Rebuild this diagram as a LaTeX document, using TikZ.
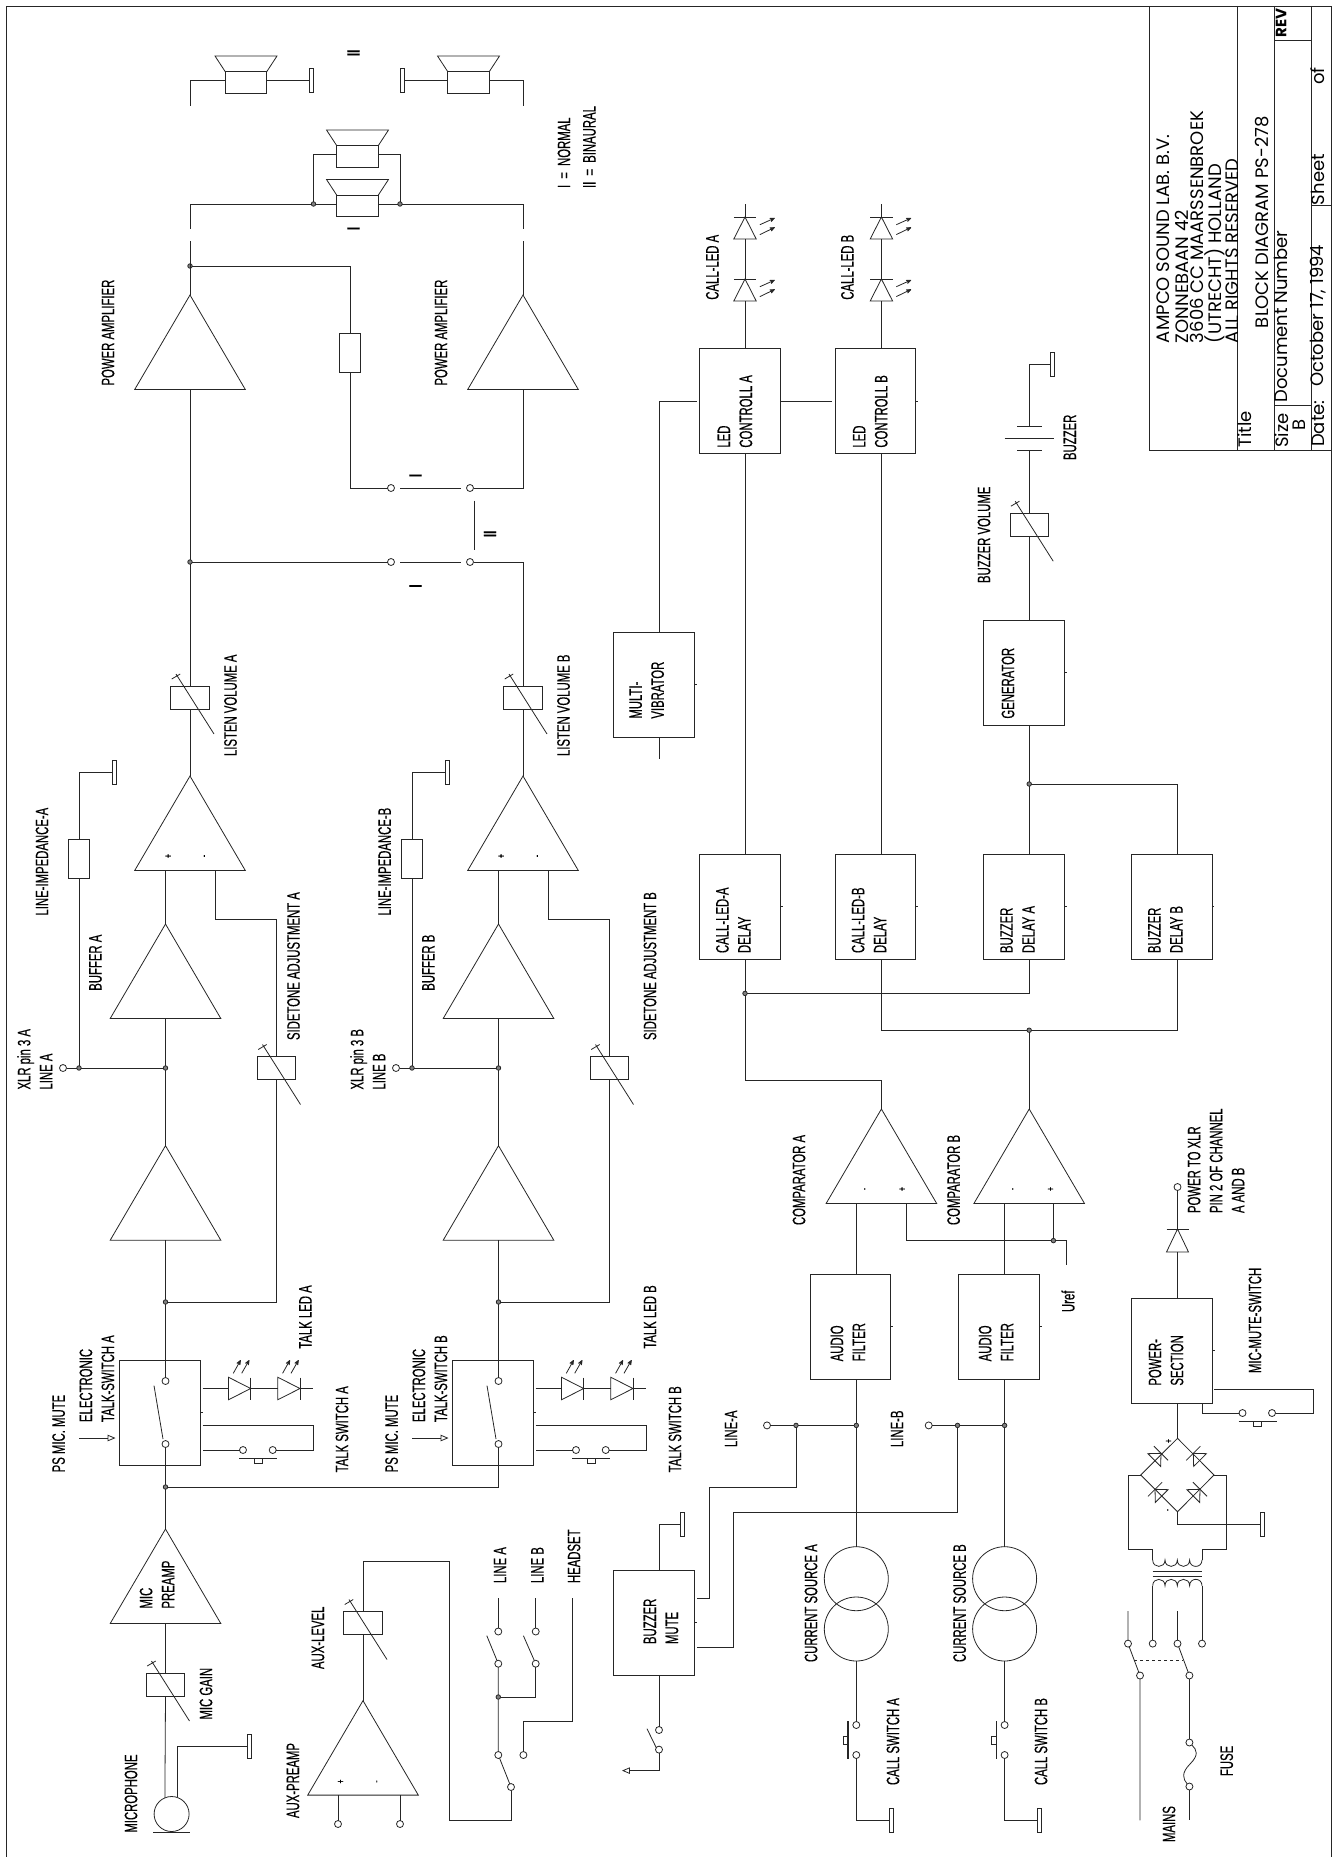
\documentclass[tikz,border=0pt]{standalone}
\usepackage{fontspec}
\usepackage{tikz}
\usetikzlibrary{
    arrows,
    shapes.geometric
}
\newfontfamily\schfont[FakeStretch=0.63,FakeBold=0.35]{Liberation Sans}
\newfontfamily\ttlfont{Poppins}

% symbols: adjustable resistor, diode, light rays, push button, loudspeaker
\newcommand{\potsym}[2]{
    \node[potbox] (#1) at (#2) {};
    \draw[shift={(#1.center)}] (-14,-23.5) -- (24,36.5) (-18.3,-18.5) -- (-9.8,-23.5);
}
\newcommand{\diodesym}[6]{
    \node[diodebox, rotate=#3, minimum width=#5, minimum height=#4] (#1) at (#2) {};
    \draw[shift={(#1.apex)}, rotate=#3] (0,-#6) -- (0,#6);
}
\newcommand{\raysup}[1]{
    \draw[->, shift={(#1.apex)}] (-17.4,-15.2) -- (-10,-28.5);
    \draw[->, shift={(#1.apex)}] (-9,-15.2) -- (-1.4,-28.5);
}
\newcommand{\raysright}[1]{
    \draw[->, shift={(#1.apex)}] (14.9,7.7) -- (29.8,1);
    \draw[->, shift={(#1.apex)}] (14.9,17.6) -- (29.8,10.4);
}
\newcommand{\pushsym}[2]{
    \draw[shift={(#1)}, rotate=#2, line width=1.3pt] (-19,0) -- (19,0);
    \draw[shift={(#1)}, rotate=#2] (-4,0) rectangle (4,4.5);
}
\newcommand{\spksym}[2]{
    \node[spkbox] (#1) at (#2) {};
    \draw[shift={(#1.center)}] (-20.7,-10.75) -- (-31,-26.5) -- (31,-26.5) -- (20.7,-10.75);
}

\begin{document}
\begin{tikzpicture}[x=1pt,y=-1pt,>=stealth',line width=0.8pt,color=black!85]
    \tikzstyle{blockbox}=[rectangle, draw, minimum width=80.3pt, minimum height=105pt, inner sep=0pt, outer sep=0pt]
    \tikzstyle{ampbox}=[isosceles triangle, isosceles triangle stretches, draw, rotate=90, anchor=apex, minimum height=94.5pt, minimum width=110.6pt, inner sep=0pt, outer sep=0pt]
    \tikzstyle{diodebox}=[isosceles triangle, isosceles triangle stretches, draw, anchor=apex, inner sep=0pt, outer sep=0pt]
    \tikzstyle{potbox}=[rectangle, draw, minimum width=38.5pt, minimum height=23pt, inner sep=0pt, outer sep=0pt]
    \tikzstyle{resbox}=[rectangle, draw, minimum width=21pt, minimum height=39pt, inner sep=0pt, outer sep=0pt]
    \tikzstyle{spkbox}=[rectangle, draw, minimum width=41.5pt, minimum height=21.5pt, inner sep=0pt, outer sep=0pt]
    \tikzstyle{gndbar}=[rectangle, draw, minimum width=4pt, minimum height=24pt, inner sep=0pt, outer sep=0pt]
    \tikzstyle{termbox}=[circle, draw, fill=white, minimum size=7pt, inner sep=0pt, outer sep=0pt]
    \tikzstyle{jdot}=[circle, draw, fill=black!50, minimum size=4.5pt, inner sep=0pt, outer sep=0pt]
    \tikzstyle{srcbox}=[circle, draw, minimum size=64pt, inner sep=0pt, outer sep=0pt]
    \tikzstyle{lbl}=[rotate=90, anchor=west, inner sep=0pt, outer sep=0pt, align=left, text=black, font=\schfont\fontsize{18}{22}\selectfont]
    \tikzstyle{pinlbl}=[rotate=90, inner sep=0pt, outer sep=0pt, text=black, font=\schfont\fontsize{11}{11}\selectfont]
    \tikzstyle{ttl}=[rotate=90, anchor=west, inner sep=0pt, outer sep=0pt, align=left, text=black, font=\ttlfont\fontsize{18}{15}\selectfont]

    \useasboundingbox (0,0) rectangle (1332,1857);

    % sheet frame and title block
    \coordinate (frameA) at (6,1857);
    \coordinate (frameB) at (6,6);
    \coordinate (frameC) at (1331,6);
    \coordinate (frameD) at (1331,1857);
    \draw (frameA) -- (frameB) -- (frameC) -- (frameD);
    \draw (1149.4,6) -- (1149.4,450) -- (1331,450);
    \draw (1237.5,6) -- (1237.5,450);
    \draw (1274.5,6) -- (1274.5,450);
    \draw (1311.7,6) -- (1311.7,450);
    \draw (1274.5,40.7) -- (1311.7,40.7);
    \draw (1274.5,405) -- (1311.7,405);
    \draw (1311.7,205.6) -- (1331,205.6);
    \node[ttl] (tbName) at (1163,343) {AMPCO SOUND LAB. B.V.};
    \node[ttl] (tbAddr) at (1207.2,343) {ZONNEBAAN 42\\3606 CC MAARSSENBROEK\\(UTRECHT) HOLLAND\\ALL RIGHTS RESERVED};
    \node[ttl] (tbTitle) at (1245,447.6) {Title};
    \node[ttl] (tbBlock) at (1262,328) {BLOCK DIAGRAM PS-278};
    \node[ttl] (tbSize) at (1281.5,447.6) {Size};
    \node[ttl] (tbB) at (1299,430) {B};
    \node[ttl] (tbDoc) at (1280.7,402.5) {Document Number};
    \node[ttl] (tbRev) at (1281,37.6) {\bfseries\fontsize{15}{15}\selectfont REV};
    \node[ttl] (tbDate) at (1318,446.8) {Date:};
    \node[ttl] (tbOct) at (1318,386.7) {October 17, 1994};
    \node[ttl] (tbSheet) at (1318,205) {Sheet};
    \node[ttl] (tbOf) at (1318,85) {of};

    % the two identical speech channels
    \foreach \chn/\dx in {A/0,B/333}{
    \begin{scope}[xshift=\dx pt]
        \node[blockbox] (sw\chn) at (160,1412.5) {};
        \node[termbox] (swT\chn) at (165.5,1381) {};
        \node[termbox] (swD\chn) at (165.5,1444) {};
        \draw (154,1385.6) -- (163,1439);
        \node[ampbox] (amp\chn) at (165.5,1145.7) {};
        \node[ampbox] (buf\chn) at (165.5,924) {};
        \node[ampbox] (sum\chn) at (190,776) {};
        \node[pinlbl] (sumP\chn) at (168.6,856) {+};
        \node[pinlbl] (sumM\chn) at (205.6,856) {-};
        \potsym{listen\chn}{190,697.5}
        \potsym{side\chn}{276.5,1068}
        \node[resbox] (imp\chn) at (79,858.5) {};
        \node[gndbar] (gndImp\chn) at (114,772) {};
        \node[jdot] (jLine\chn) at (165.5,1068) {};
        \node[jdot] (jImp\chn) at (79,1068) {};
        \node[termbox] (tLine\chn) at (63,1068) {};
        \node[jdot] (jSide\chn) at (165.5,1302) {};
        \coordinate (stC\chn) at (215,919.5);
        \draw (amp\chn.lower side) -- (jSide\chn) -- (swT\chn);
        \draw (buf\chn.lower side) -- (jLine\chn) -- (amp\chn.apex);
        \draw (buf\chn.apex) -- (buf\chn.apex |- sum\chn.lower side);
        \draw (sum\chn.apex) -- (listen\chn.south);
        \draw (stC\chn |- sum\chn.lower side) -- (stC\chn) -| (side\chn.north);
        \draw (side\chn.south) |- (jSide\chn);
        \draw (tLine\chn) -- (jImp\chn) -- (jLine\chn);
        \draw (jImp\chn) -- (imp\chn.south);
        \draw (imp\chn.north) |- (gndImp\chn.west);

        % talk LEDs
        \diodesym{ledU\chn}{250.7,1388.5}{0}{22.3pt}{22.6pt}{11}
        \diodesym{ledV\chn}{300,1388.5}{0}{22.3pt}{22.6pt}{11}
        \raysup{ledU\chn}
        \raysup{ledV\chn}
        \coordinate (ledIn\chn) at (202.5,1388.5);
        \coordinate (ledOut\chn) at (313,1388.5);
        \draw (ledIn\chn) -- (ledU\chn.lower side);
        \draw (ledU\chn.apex) -- (ledV\chn.lower side);
        \draw (ledV\chn.apex) -- (ledOut\chn);

        % talk switch
        \coordinate (tsTop\chn) at (202.5,1425.5);
        \coordinate (tsEnd\chn) at (313.3,1425.5);
        \coordinate (tsLow\chn) at (202.5,1450);
        \node[termbox] (tsL\chn) at (243,1450) {};
        \node[termbox] (tsR\chn) at (272.7,1450) {};
        \draw (tsTop\chn) -- (tsEnd\chn) |- (tsR\chn);
        \draw (tsL\chn) -- (tsLow\chn);
        \pushsym{258,1458.5}{0}

        \coordinate (muteIn\chn) at (79,1438);
        \coordinate (muteTip\chn) at (115.5,1438);
        \draw[-open triangle 45] (muteIn\chn) -- (muteTip\chn);

        \node[lbl] (txtMute\chn) at (58.6,1472.3) {PS MIC. MUTE};
        \node[lbl] (txtEts\chn) at (96.9,1422) {ELECTRONIC\\TALK-SWITCH \chn};
        \node[lbl] (txtTs\chn) at (342,1472.3) {TALK SWITCH \chn};
        \node[lbl] (txtXlr\chn) at (34.8,1089.5) {XLR pin 3 \chn\\LINE \chn};
        \node[lbl] (txtBuf\chn) at (95.5,990.7) {BUFFER \chn};
        \node[lbl] (txtVol\chn) at (230.5,756) {LISTEN VOLUME \chn};
    \end{scope}
    }
    \node[lbl] (txtImpA) at (42,915.5) {LINE-IMPEDANCE-A};
    \node[lbl] (txtImpB) at (384.6,915.5) {LINE-IMPEDANCE-B};
    \node[lbl] (txtSideA) at (293.5,1040) {SIDETONE ADJUSTMENT A};
    \node[lbl] (txtSideB) at (650,1040) {SIDETONE ADJUSTMENT B};
    \node[lbl] (txtLedA) at (305.4,1348.7) {TALK LED A};
    \node[lbl] (txtLedB) at (650,1348.7) {TALK LED B};

    % microphone input
    \node[ampbox] (pre) at (165.5,1529) {};
    \node[jdot] (jPre) at (165.5,1487) {};
    \potsym{gain}{165.5,1684.5}
    \node[circle, draw, minimum size=35pt, inner sep=0pt] (mic) at (171.6,1814) {};
    \node[gndbar] (gndMic) at (249.4,1746) {};
    \draw (swDA) -- (jPre) -- (pre.apex);
    \draw (swDB) |- (jPre);
    \draw (pre.lower side) -- (gain.north);
    \draw (gain.south) -- (mic.112);
    \draw (mic.70) |- (gndMic.west);
    \draw[line width=1.3pt] (153,1832.5) -- (190,1832.5);
    \node[lbl] (txtPre) at (157,1608.5) {MIC\\PREAMP};
    \node[lbl] (txtMic) at (131,1832.6) {MICROPHONE};
    \node[lbl] (txtGain) at (206,1719.5) {MIC GAIN};

    % power amplifiers and loudspeakers
    \node[ampbox] (paA) at (190,295) {};
    \node[ampbox] (paB) at (523,295) {};
    \node[jdot] (jListen) at (190,562) {};
    \node[jdot] (jOut) at (190,266) {};
    \node[termbox] (swI1) at (391,488) {};
    \node[termbox] (swI2) at (470,488) {};
    \node[termbox] (swJ1) at (391,562) {};
    \node[termbox] (swJ2) at (470,562) {};
    \node[resbox] (resOut) at (350,352.5) {};
    \coordinate (cornerI) at (523,488);
    \coordinate (cornerJ) at (523,562);
    \draw (listenA.north) -- (jListen) -- (paA.lower side);
    \draw (jListen) -- (swJ1);
    \draw (listenB.north) -- (cornerJ) -- (swJ2);
    \draw (paB.lower side) -- (cornerI) -- (swI2);
    \draw (jOut) -| (resOut.north);
    \draw (resOut.south) |- (swI1);
    \draw (400,488) -- (461,488);
    \draw (400,562) -- (461,562);
    \draw (474,500.6) -- (474,550);
    \node[lbl] (txtI1) at (415.5,477) {\bfseries I};
    \node[lbl] (txtI2) at (415.5,587.6) {\bfseries I};
    \node[lbl] (txtI3) at (353.5,230) {\bfseries I};
    \node[lbl] (txtII1) at (490,537) {\bfseries II};
    \node[lbl] (txtII2) at (353.5,56) {\bfseries II};

    \coordinate (outA) at (190,241);
    \coordinate (outB) at (523,241);
    \coordinate (normA) at (190,228.5);
    \coordinate (normB) at (523,228.5);
    \coordinate (binA) at (190,105.6);
    \coordinate (binB) at (523,105.6);
    \draw (paA.apex) -- (outA);
    \draw (paB.apex) -- (outB);
    \spksym{spkN1}{357.5,206}
    \spksym{spkN2}{357.5,156.5}
    \node[jdot] (jSpkL) at (313.5,204) {};
    \node[jdot] (jSpkR) at (400,204) {};
    \draw (normA) |- (jSpkL);
    \draw (jSpkL) -- (jSpkL -| spkN1.west);
    \draw (jSpkR -| spkN1.east) -- (jSpkR);
    \draw (normB) |- (jSpkR);
    \coordinate (nLoopL) at (313.5,154.6);
    \coordinate (nLoopR) at (400,154.6);
    \draw (jSpkL) -- (nLoopL) -- (nLoopL -| spkN2.west);
    \draw (jSpkR) -- (nLoopR) -- (nLoopR -| spkN2.east);

    \spksym{spkB1}{246,82.5}
    \spksym{spkB2}{468.5,82.5}
    \node[gndbar] (gndB1) at (311.3,80.7) {};
    \node[gndbar] (gndB2) at (402,80.7) {};
    \coordinate (binAc) at (190,80.7);
    \coordinate (binBc) at (523,80.7);
    \draw (binA) -- (binAc) -- (binAc -| spkB1.west);
    \draw (binAc -| spkB1.east) -- (gndB1.west);
    \draw (binB) -- (binBc) -- (binBc -| spkB2.east);
    \draw (binBc -| spkB2.west) -- (gndB2.east);
    \node[lbl] (txtPaA) at (108,385.5) {POWER AMPLIFIER};
    \node[lbl] (txtPaB) at (441,385.5) {POWER AMPLIFIER};
    \node[lbl] (txtNorm) at (564,188) {I\hspace{3pt} = \hspace{3pt}NORMAL};
    \node[lbl] (txtBin) at (589.5,188) {II\hspace{3pt} = \hspace{3pt}BINAURAL};

    % aux input
    \node[ampbox] (aux) at (363,1700.6) {};
    \node[pinlbl] (auxP) at (341,1781.5) {+};
    \node[pinlbl] (auxM) at (378,1781.5) {-};
    \potsym{auxPot}{363,1623}
    \node[termbox] (leg1) at (338,1824) {};
    \node[termbox] (leg2) at (400,1824) {};
    \draw (aux.apex) -- (auxPot.south);
    \draw (aux.lower side -| leg1) -- (leg1);
    \draw (aux.lower side -| leg2) -- (leg2);
    \coordinate (auxC1) at (449.4,1561.5);
    \coordinate (auxC2) at (449.4,1820.4);
    \node[termbox] (tAux) at (511,1787) {};
    \node[termbox] (tCom) at (498.3,1755) {};
    \node[termbox] (tHead) at (523.4,1755) {};
    \node[jdot] (jAux) at (498.3,1697) {};
    \node[termbox] (tLa1) at (498.3,1663.7) {};
    \node[termbox] (tLa2) at (498.3,1631.5) {};
    \node[termbox] (tLb1) at (535.7,1663.7) {};
    \node[termbox] (tLb2) at (535.7,1631.5) {};
    \coordinate (endLa) at (498.3,1598);
    \coordinate (endLb) at (535.7,1598);
    \coordinate (endHd) at (572,1598);
    \coordinate (cornerHd) at (572,1721.6);
    \draw (auxPot.north) |- (auxC1) -- (auxC2) -| (tAux);
    \draw (tAux) -- (tCom) -- (jAux) -- (tLa1);
    \draw (jAux) -| (tLb1);
    \draw (tLa1) -- (486.8,1635.7);
    \draw (tLb1) -- (523.4,1635.7);
    \draw (tLa2) -- (endLa);
    \draw (tLb2) -- (endLb);
    \draw (tHead) |- (cornerHd) -- (endHd);
    \node[lbl] (txtAuxL) at (318,1669) {AUX-LEVEL};
    \node[lbl] (txtAuxP) at (293,1818) {AUX-PREAMP};
    \node[lbl] (txtLa) at (500,1583) {LINE A};
    \node[lbl] (txtLb) at (537.4,1583) {LINE B};
    \node[lbl] (txtHd) at (574,1583) {HEADSET};

    % buzzer mute
    \node[blockbox] (bm) at (654,1622.5) {};
    \node[gndbar] (gndBm) at (682,1524.7) {};
    \node[termbox] (bmT1) at (659,1730) {};
    \node[termbox] (bmT2) at (659,1749.6) {};
    \coordinate (bmTop) at (659,1570);
    \coordinate (bmLow) at (659,1675);
    \coordinate (bmTip) at (622,1770.6);
    \coordinate (bmOutA) at (697,1598.4);
    \coordinate (bmOutB) at (697,1647.8);
    \coordinate (bmCa) at (709,1487.4);
    \coordinate (bmCb) at (733.7,1512);
    \draw (bmTop) |- (gndBm.west);
    \draw (bmLow) -- (bmT1);
    \draw (647,1728.7) -- (656.4,1748);
    \draw[-open triangle 45] (bmT2) |- (bmTip);
    \node[lbl] (txtBm) at (661,1644) {BUZZER\\MUTE};

    % call channels
    \foreach \chn/\xa/\xb/\xc/\xd in {A/856.3/850.7/811/893,B/1004.6/999/959.6/1041}{
        \node[blockbox] (af\chn) at (\xb,1326.5) {};
        \node[jdot] (jAf\chn) at (\xa,1425.4) {};
        \node[srcbox] (csU\chn) at (\xa,1578.7) {};
        \node[srcbox] (csD\chn) at (\xa,1629) {};
        \node[termbox] (call1\chn) at (\xa,1725) {};
        \node[termbox] (call2\chn) at (\xa,1755) {};
        \node[gndbar] (gndCs\chn) at (\xa+34.7,1820.4) {};
        \draw (jAf\chn) -- (jAf\chn |- af\chn.south);
        \draw (jAf\chn) -- (csU\chn.north);
        \draw (csD\chn.south) -- (call1\chn);
        \draw (call2\chn) |- (gndCs\chn.west);
        \pushsym{\xa-8.3,1740}{-90}
        \node[lbl] (txtCs\chn) at (\xc,1662) {CURRENT SOURCE \chn};
        \node[lbl] (txtCall\chn) at (\xd,1785) {CALL SWITCH \chn};
    }
    \node[lbl] (txtAfA) at (847.8,1361.3) {AUDIO\\FILTER};
    \node[lbl] (txtAfB) at (996,1361.3) {AUDIO\\FILTER};
    \node[jdot] (jLa) at (796,1425.4) {};
    \node[jdot] (jLb) at (957.5,1425.4) {};
    \node[termbox] (tCallA) at (767,1425.4) {};
    \node[termbox] (tCallB) at (928.7,1425.4) {};
    \draw (tCallA) -- (jLa) -- (jAfA);
    \draw (tCallB) -- (jLb) -- (jAfB);
    \draw (bmOutA) -| (bmCa) -| (jLa);
    \draw (bmOutB) -| (bmCb) -| (jLb);
    \node[lbl] (txtLineA) at (731,1447) {LINE-A};
    \node[lbl] (txtLineB) at (897,1447) {LINE-B};

    % comparators
    \node[ampbox] (compA) at (881.4,1109) {};
    \node[ampbox] (compB) at (1029.2,1109) {};
    \node[pinlbl] (compAm) at (866,1189) {-};
    \node[pinlbl] (compAp) at (902.6,1189) {+};
    \node[pinlbl] (compBm) at (1014,1189) {-};
    \node[pinlbl] (compBp) at (1051,1189) {+};
    \node[jdot] (jUref) at (1053.4,1240.6) {};
    \coordinate (urefA) at (906,1240.6);
    \coordinate (urefEnd) at (1066,1265);
    \draw (jAfA |- compA.lower side) -- (jAfA |- afA.north);
    \draw (jAfB |- compB.lower side) -- (jAfB |- afB.north);
    \draw (urefA |- compA.lower side) -- (urefA) -- (jUref) -| (urefEnd);
    \draw (jUref |- compB.lower side) -- (jUref);
    \node[lbl] (txtCompA) at (799,1225) {COMPARATOR A};
    \node[lbl] (txtCompB) at (953.6,1225) {COMPARATOR B};
    \node[lbl] (txtUref) at (1068,1312) {Uref};

    % delays, LED controls, call LEDs
    \node[blockbox] (dlyA) at (740,906.5) {};
    \node[blockbox] (dlyB) at (875.6,906.5) {};
    \node[blockbox] (dlyC) at (1024,906.5) {};
    \node[blockbox] (dlyD) at (1171.8,906.5) {};
    \node[blockbox] (ctlA) at (740,401) {};
    \node[blockbox] (ctlB) at (875.6,401) {};
    \node[blockbox] (gen) at (1024,672.5) {};
    \node[blockbox] (mv) at (654,684.6) {};
    \node[jdot] (jDly) at (745,993.4) {};
    \node[jdot] (jCmp) at (1029.2,1030.2) {};
    \node[jdot] (jGen) at (1029.2,784) {};
    \coordinate (dlyBc) at (881.4,1030.2);
    \coordinate (dlyDc) at (1177.5,1030.2);
    \coordinate (cmpC) at (745,1080.4);
    \coordinate (genDc) at (1177.5,784);
    \draw (jDly |- dlyA.south) -- (jDly) -- (cmpC) -| (compA.apex);
    \draw (jDly) -| (jDly -| jCmp) -- (jCmp |- dlyC.south);
    \draw (dlyBc |- dlyB.south) -- (dlyBc) -- (jCmp) -- (dlyDc) -- (dlyDc |- dlyD.south);
    \draw (jCmp) -- (compB.apex);
    \draw (jGen |- gen.south) -- (jGen) -- (jGen |- dlyC.north);
    \draw (jGen) -- (genDc) -- (genDc |- dlyD.north);
    \draw (jDly |- dlyA.north) -- (jDly |- ctlA.south);
    \draw (dlyBc |- dlyB.north) -- (dlyBc |- ctlB.south);
    \coordinate (ctlOut) at (832,401);
    \coordinate (ctlIn) at (696.6,401);
    \coordinate (mvTop) at (659,401);
    \coordinate (mvEnd) at (659,759);
    \draw (ctlA.east) -- (ctlOut);
    \draw (mvTop |- mv.north) -- (mvTop) -- (ctlIn);
    \draw (mvTop |- mv.south) -- (mvEnd);
    \foreach \chn/\xa in {A/745,B/881.4}{
        \diodesym{cledU\chn}{\xa,279}{90}{22pt}{22.4pt}{11.2}
        \diodesym{cledV\chn}{\xa,217}{90}{22pt}{22.4pt}{11.2}
        \raysright{cledU\chn}
        \raysright{cledV\chn}
        \coordinate (cledEnd\chn) at (\xa,204.4);
        \draw (ctl\chn.north -| cledU\chn.lower side) -- (cledU\chn.lower side);
        \draw (cledU\chn.apex) -- (cledV\chn.lower side);
        \draw (cledV\chn.apex) -- (cledEnd\chn);
    }
    \node[lbl] (txtDlyA) at (733.3,953) {CALL-LED-A\\DELAY};
    \node[lbl] (txtDlyB) at (869,953) {CALL-LED-B\\DELAY};
    \node[lbl] (txtDlyC) at (1017.5,953) {BUZZER\\DELAY A};
    \node[lbl] (txtDlyD) at (1165.4,953) {BUZZER\\DELAY B};
    \node[lbl] (txtCtlA) at (735,447.6) {LED\\CONTROLL A};
    \node[lbl] (txtCtlB) at (870.3,447.6) {LED\\CONTROLL B};
    \node[lbl] (txtGen) at (1008,718.6) {GENERATOR};
    \node[lbl] (txtMv) at (646.7,718.6) {MULTI-\\VIBRATOR};
    \node[lbl] (txtCledA) at (712.3,299.7) {CALL-LED A};
    \node[lbl] (txtCledB) at (847.4,299.7) {CALL-LED B};

    % buzzer output
    \potsym{bzVol}{1029.2,524.7}
    \coordinate (bzLow) at (1029.2,450.8);
    \coordinate (bzUp) at (1029.2,426.3);
    \node[gndbar] (gndBz) at (1052,364.6) {};
    \draw (jGen |- gen.north) -- (bzVol.south);
    \draw (bzVol.north) -- (bzLow);
    \draw (bzUp) |- (gndBz.west);
    \draw (1017.3,450.8) -- (1041.5,450.8);
    \draw (1004.6,438) -- (1053.8,438);
    \draw (1017.3,426.3) -- (1041.5,426.3);
    \node[lbl] (txtBz) at (1070,460) {BUZZER};
    \node[lbl] (txtBzV) at (984,583) {BUZZER VOLUME};

    % power section
    \node[blockbox] (pwr) at (1172,1350.7) {};
    \diodesym{dPwr}{1177.5,1229}{90}{23pt}{22pt}{11}
    \node[termbox] (tPwr) at (1177.5,1187) {};
    \draw (dPwr.lower side) -- (dPwr.lower side |- pwr.north);
    \draw (dPwr.apex) -- (tPwr);
    \node[lbl] (txtPwr) at (1166,1385.6) {POWER-\\SECTION};
    \node[lbl] (txtPwrTo) at (1216,1213) {POWER TO XLR\\PIN 2 OF CHANNEL\\A AND B};
    \node[lbl] (txtMms) at (1255,1373) {MIC-MUTE-SWITCH};
    \coordinate (mmIn) at (1214,1389);
    \coordinate (mmC) at (1313.4,1389);
    \coordinate (mmOut) at (1202,1403);
    \node[termbox] (tMmR) at (1272,1413) {};
    \node[termbox] (tMmL) at (1242.5,1413) {};
    \draw (mmIn) -- (mmC) |- (tMmR);
    \draw (tMmL) -| (mmOut);
    \pushsym{1257.5,1421.6}{0}

    % rectifier bridge
    \coordinate (brT) at (1177.5,1438.3);
    \coordinate (brL) at (1140.7,1475);
    \coordinate (brR) at (1214,1475);
    \coordinate (brD) at (1177.5,1511.7);
    \draw (brT) -- (brL) -- (brD) -- (brR) -- cycle;
    \draw (brT) -- (brT |- pwr.south);
    \diodesym{brA}{1161,1453.3}{45}{9.5pt}{18pt}{10}
    \diodesym{brB}{1193.3,1453.3}{135}{9.5pt}{18pt}{10}
    \diodesym{brC}{1155,1489.3}{135}{9.5pt}{18pt}{10}
    \diodesym{brE}{1200,1489.3}{45}{9.5pt}{18pt}{10}
    \node[pinlbl] (brP) at (1169,1441) {+};
    \node[pinlbl] (brM) at (1169,1510) {-};
    \node[gndbar] (gndBr) at (1262,1524) {};
    \draw (brD) |- (gndBr.west);

    % mains transformer
    \coordinate (secL) at (1152.7,1560);
    \coordinate (secR) at (1202,1560);
    \coordinate (priL) at (1152.7,1585.7);
    \coordinate (priR) at (1202,1585.7);
    \coordinate (brLo) at (1128.3,1549);
    \coordinate (brRo) at (1226.7,1549);
    \draw (brL) -| (brLo) -| (secL);
    \draw (brR) -| (brRo) -| (secR);
    \draw (secL) .. controls +(0,8.5) and +(0,8.5) .. ++(12.3,0) .. controls +(0,8.5) and +(0,8.5) .. ++(12.3,0) .. controls +(0,8.5) and +(0,8.5) .. ++(12.3,0) .. controls +(0,8.5) and +(0,8.5) .. (secR);
    \draw (priL) .. controls +(0,-8.5) and +(0,-8.5) .. ++(12.3,0) .. controls +(0,-8.5) and +(0,-8.5) .. ++(12.3,0) .. controls +(0,-8.5) and +(0,-8.5) .. ++(12.3,0) .. controls +(0,-8.5) and +(0,-8.5) .. (priR);
    \draw (1152.7,1571.7) -- (1202,1571.7);
    \draw (1152.7,1576) -- (1202,1576);
    \node[termbox] (tPriL) at (1152.7,1643.6) {};
    \node[termbox] (tPriR) at (1202,1643.6) {};
    \draw (priL) -- (tPriL);
    \draw (priR) -- (tPriR);
    \node[termbox] (mL1) at (1128,1643.6) {};
    \node[termbox] (mL2) at (1140,1675.5) {};
    \node[termbox] (mR1) at (1177.5,1643.6) {};
    \node[termbox] (mR2) at (1189.4,1675.5) {};
    \coordinate (mLin) at (1128,1611);
    \coordinate (mRin) at (1177.5,1611);
    \coordinate (mLend) at (1140,1820.4);
    \coordinate (mRend) at (1189.4,1820.4);
    \draw (mLin) -- (mL1) -- (mL2) -- (mLend);
    \draw (mRin) -- (mR1) -- (mR2);
    \draw[dashed] (1134,1660.4) -- (1183,1660.4);
    \node[termbox] (fuT) at (1189.4,1742.5) {};
    \node[termbox] (fuD) at (1189.4,1786.5) {};
    \draw (mR2) -- (fuT);
    \draw (fuT) .. controls (1197,1750) and (1199,1755) .. (1190,1764) .. controls (1181,1773) and (1183,1779) .. (fuD);
    \draw (fuD) -- (mRend);
    \node[lbl] (txtMains) at (1169,1842) {MAINS};
    \node[lbl] (txtFuse) at (1226.7,1776) {FUSE};

    % little pins on the blocks
    \foreach \n in {swA,swB,afA,afB,bm,dlyA,dlyB,dlyC,dlyD,ctlB,gen,mv,pwr}
        \draw (\n.east) -- ++(2.5,0);
\end{tikzpicture}
\end{document}
